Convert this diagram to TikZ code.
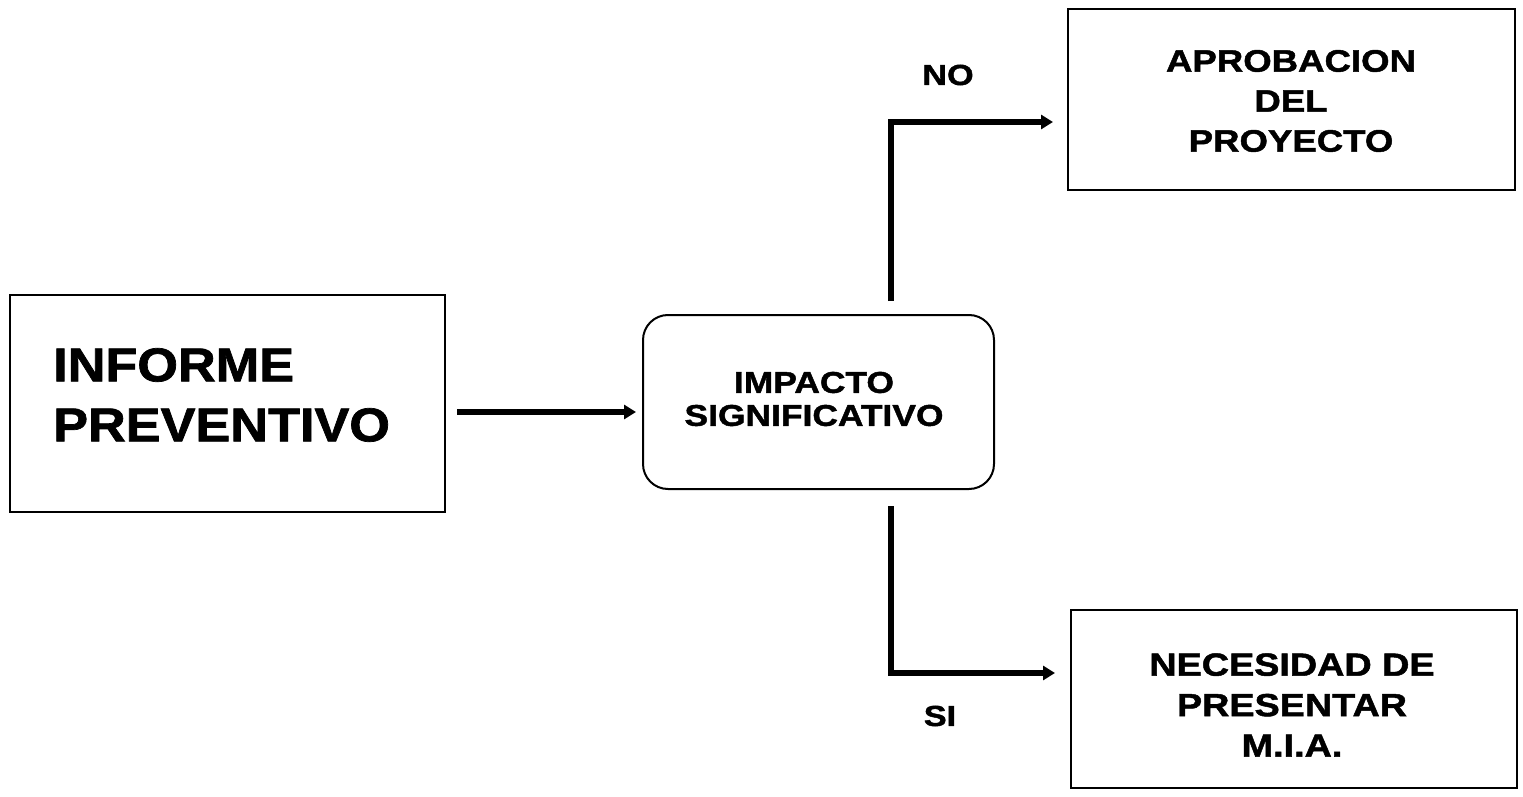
\documentclass[tikz,border=0pt]{standalone}
\usepackage{fontspec}
\setmainfont{Liberation Sans}[FakeStretch=1.18,FakeBold=1.5]
\newfontfamily\bigfont{Liberation Sans}[FakeStretch=1.1,FakeBold=1.5]
\usetikzlibrary{arrows.meta}
\begin{document}
\begin{tikzpicture}[x=1pt,y=-1pt,
  box/.style={draw, line width=2pt, rectangle, inner sep=0pt},
  conn/.style={line width=5.5pt, -{Triangle[length=12pt,width=14pt]}},
  lbl/.style={font=\bfseries\fontsize{31}{40}\selectfont, align=center, inner sep=0pt},
  biglbl/.style={font=\bigfont\bfseries\fontsize{47.5}{60}\selectfont, align=left, inner sep=0pt},
  yn/.style={font=\bfseries\fontsize{29}{34}\selectfont, inner sep=0pt},
]
\fill[white] (0,0) rectangle (1523,797);
\useasboundingbox (0,0) rectangle (1523,797);

% boxes
\node[box, minimum width=435pt, minimum height=217pt] (inf) at (227.5,403.5) {};
\node[biglbl, anchor=west] (infT) at (53,395) {INFORME\\PREVENTIVO};

\node[box, rounded corners=25pt, minimum width=351pt, minimum height=174pt] (imp) at (818.5,402) {};
\node[lbl, font=\bfseries\fontsize{30}{33}\selectfont] (impT) at (814,399) {IMPACTO\\SIGNIFICATIVO};

\node[box, minimum width=447pt, minimum height=181pt] (apro) at (1291.5,99.5) {};
\node[lbl] (aproT) at (1291,101) {APROBACION\\DEL\\PROYECTO};

\node[box, minimum width=446pt, minimum height=178pt] (nec) at (1294,699) {};
\node[lbl, font=\bfseries\fontsize{32}{40.5}\selectfont] (necT) at (1292,705) {NECESIDAD DE\\PRESENTAR\\M.I.A.};

% labels
\node[yn] (no) at (948,75) {NO};
\node[yn] (si) at (940,716) {SI};

% connectors
\draw[conn] ([shift={(11,8.5)}]inf.east) -- ([shift={(-6,10)}]imp.west);
\draw[conn] ([shift={(72.5,-13)}]imp.north) |- ([shift={(-14,22.5)}]apro.west);
\draw[conn] ([shift={(72.5,16)}]imp.south) |- ([shift={(-15,-26)}]nec.west);
\end{tikzpicture}
\end{document}
